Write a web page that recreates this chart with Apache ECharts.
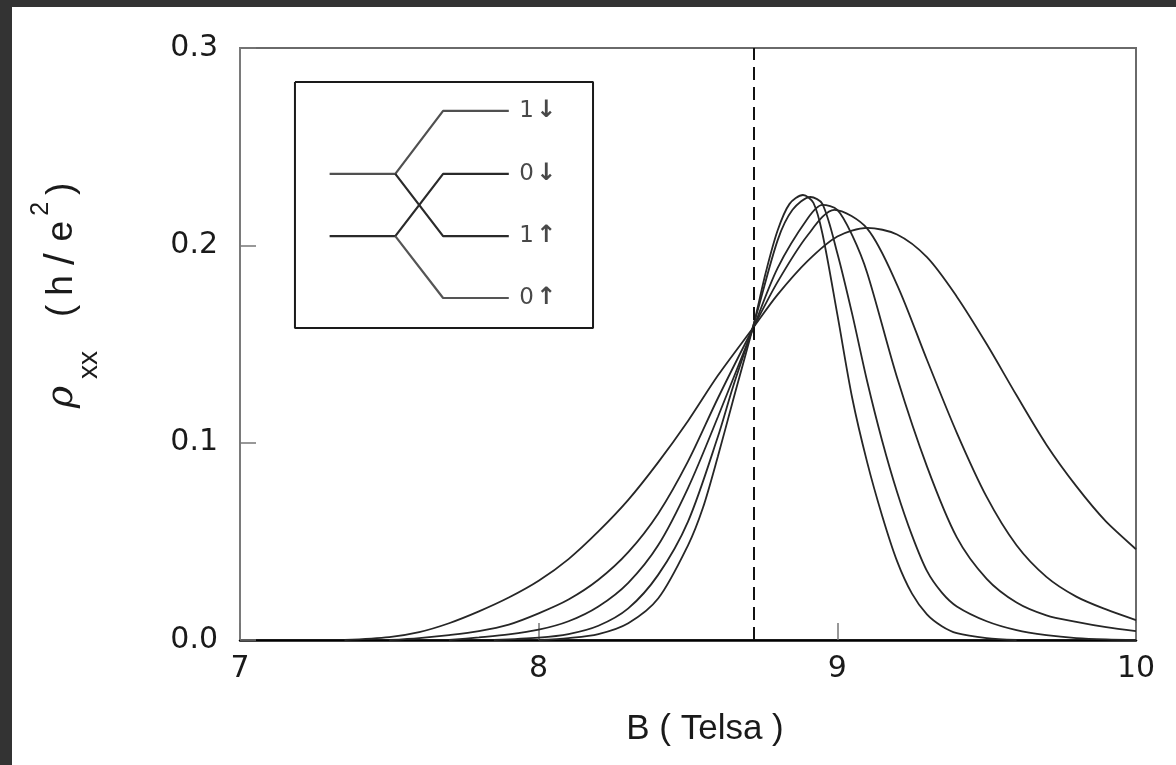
<!DOCTYPE html>
<html><head><meta charset="utf-8">
<script src="https://cdn.jsdelivr.net/npm/echarts@6/dist/echarts.min.js"></script>
<style>
html,body{margin:0;padding:0;background:#333;width:1176px;height:765px;overflow:hidden}
#chart{position:absolute;left:12px;top:7px;width:1164px;height:758px;background:#fff}
</style></head><body><div id="chart"></div>
<script>
// ---- data ----
const xRange = [7, 10];
const yRange = [0, 0.3];
const xTickStep = 1;
const yTickStep = 0.1;
const xAxisTitle = 'B ( Telsa )';
const criticalB = 8.717;

const curve1 = [[8.00,0.0000],[8.10,0.0010],[8.20,0.0030],[8.30,0.0085],[8.40,0.0210],[8.50,0.0480],[8.55,0.0670],[8.60,0.0930],[8.65,0.1210],[8.72,0.1600],[8.76,0.1860],[8.80,0.2075],[8.84,0.2210],[8.885,0.2255],[8.92,0.2215],[8.95,0.2060],[9.00,0.1650],[9.05,0.1225],[9.10,0.0900],[9.15,0.0630],[9.20,0.0400],[9.25,0.0235],[9.30,0.0130],[9.35,0.0070],[9.40,0.0035],[9.50,0.0010],[9.60,0.0000]];
const curve2 = [[7.85,0.0000],[8.00,0.0012],[8.10,0.0030],[8.20,0.0072],[8.30,0.0160],[8.40,0.0330],[8.50,0.0600],[8.60,0.1030],[8.65,0.1280],[8.72,0.1600],[8.80,0.2025],[8.85,0.2180],[8.91,0.2245],[8.95,0.2210],[9.00,0.1960],[9.05,0.1650],[9.10,0.1310],[9.15,0.1010],[9.20,0.0750],[9.25,0.0530],[9.30,0.0350],[9.35,0.0240],[9.40,0.0170],[9.50,0.0095],[9.60,0.0050],[9.70,0.0025],[9.80,0.0010],[9.90,0.0003],[10.0,0.0000]];
const curve3 = [[7.70,0.0000],[7.80,0.0013],[7.90,0.0028],[8.00,0.0052],[8.10,0.0095],[8.20,0.0170],[8.30,0.0290],[8.40,0.0480],[8.50,0.0770],[8.60,0.1130],[8.72,0.1586],[8.80,0.1885],[8.90,0.2135],[8.95,0.2205],[9.00,0.2180],[9.05,0.2050],[9.10,0.1860],[9.20,0.1330],[9.30,0.0880],[9.40,0.0520],[9.50,0.0310],[9.60,0.0190],[9.70,0.0125],[9.80,0.0092],[9.90,0.0065],[10.0,0.0045]];
const curve4 = [[7.50,0.0000],[7.60,0.0010],[7.70,0.0025],[7.80,0.0045],[7.90,0.0078],[8.00,0.0135],[8.10,0.0205],[8.20,0.0305],[8.30,0.0445],[8.40,0.0640],[8.50,0.0905],[8.60,0.1225],[8.72,0.1586],[8.80,0.1815],[8.90,0.2050],[8.99,0.2180],[9.10,0.2085],[9.20,0.1800],[9.30,0.1420],[9.40,0.1050],[9.50,0.0725],[9.60,0.0480],[9.70,0.0320],[9.80,0.0220],[9.90,0.0155],[10.0,0.0101]];
const curve5 = [[7.35,0.0000],[7.50,0.0015],[7.60,0.0040],[7.70,0.0085],[7.80,0.0145],[7.90,0.0215],[8.00,0.0300],[8.10,0.0410],[8.20,0.0550],[8.30,0.0710],[8.40,0.0900],[8.50,0.1110],[8.60,0.1340],[8.72,0.1586],[8.80,0.1750],[8.90,0.1920],[9.00,0.2045],[9.10,0.2088],[9.20,0.2055],[9.30,0.1940],[9.40,0.1740],[9.50,0.1500],[9.60,0.1240],[9.70,0.0990],[9.80,0.0780],[9.90,0.0600],[10.0,0.0460]];
const curves = [curve1, curve2, curve3, curve4, curve5];

// inset: Landau-level splitting schematic, in (B, rho) coordinates
const insetBox = [[7.184,0.2828],[8.182,0.2828],[8.182,0.1581],[7.184,0.1581],[7.184,0.2828]];
const insetBranches = [
  [[7.30,0.2362],[7.52,0.2362],[7.68,0.2681],[7.90,0.2681]],
  [[7.52,0.2362],[7.68,0.2047],[7.90,0.2047]],
  [[7.30,0.2047],[7.52,0.2047],[7.68,0.2362],[7.90,0.2362]],
  [[7.52,0.2047],[7.68,0.1733],[7.90,0.1733]]
];
const insetDigits = ['1','0','1','0'];
const insetSpins = ['↓','↓','↑','↑'];
const insetLevels = [0.2681,0.2362,0.2047,0.1733];
const insetLabelB = 7.935;

// ---- chart ----
const chart = echarts.init(document.getElementById('chart'), null, {renderer:'canvas'});
const TXT = '#1a1a1a';
const FONT = 'Liberation Sans';
const series = [];
curves.forEach((c, i) => {
  const s = {
    type:'line', data:c, smooth:0.3, symbol:'none', silent:true, z:3,
    lineStyle:{color:'#262626', width:1.8}
  };
  if (i === curves.length - 1) {
    s.markLine = {
      silent:true, symbol:['none','none'], label:{show:false},
      lineStyle:{type:[13,7], color:'#111', width:2},
      data:[{xAxis: criticalB}]
    };
  }
  series.push(s);
});
series.push({type:'line', data:insetBox, symbol:'none', silent:true, z:4,
  lineStyle:{color:'#1a1a1a', width:2}});
const branchColors = ['#505050','#2a2a2a','#2a2a2a','#555'];
insetBranches.forEach((b, i) => series.push({type:'line', data:b, symbol:'none', silent:true, z:4,
  lineStyle:{color:branchColors[i], width:2.2}}));
series.push({type:'scatter', symbolSize:0, silent:true, z:5,
  data: insetLevels.map((y,i) => [insetLabelB, y, insetDigits[i], insetSpins[i]]),
  label:{show:true, position:'right', distance:0,
    formatter:p => '{d|' + p.data[2] + '}{a|' + p.data[3] + '}',
    rich:{
      d:{fontSize:23, fontFamily:'DejaVu Sans', color:TXT},
      a:{fontSize:24, fontFamily:'DejaVu Sans', fontWeight:'bold', color:TXT, padding:[0,0,0,2]}
    }}});

chart.setOption({
  animation:false,
  backgroundColor:'#fff',
  grid:{left:228, top:41, right:40, bottom:125, containLabel:false, outerBoundsMode:'none',
    show:true, borderColor:'#6a6a6a', borderWidth:2},
  xAxis:{type:'value', min:xRange[0], max:xRange[1], interval:xTickStep,
    name:xAxisTitle, nameLocation:'middle', nameGap:72,
    nameTextStyle:{fontSize:35, fontFamily:FONT, color:TXT, padding:[0,0,0,34]},
    axisLine:{show:true, onZero:false, lineStyle:{color:'#000', width:2.5}},
    axisTick:{show:true, inside:true, length:17, lineStyle:{color:'#777', width:1.5}},
    axisLabel:{fontSize:30, fontFamily:'DejaVu Sans', color:TXT, margin:14},
    splitLine:{show:false}},
  yAxis:{type:'value', min:yRange[0], max:yRange[1], interval:yTickStep,
    name:'{r|ρ}{s|xx}{o|(}{h|h}{sl|/}{e|e}{p|2}{c|)}',
    nameLocation:'middle', nameGap:137, nameRotate:90,
    nameTextStyle:{padding:[0,0,0,97], lineHeight:82,
      rich:{
        r:{fontSize:38, fontFamily:'DejaVu Serif', fontStyle:'italic', color:TXT, lineHeight:82},
        s:{fontSize:28, fontFamily:FONT, color:TXT, verticalAlign:'bottom', lineHeight:30, padding:[0,0,0,7]},
        o:{fontSize:37, fontFamily:FONT, color:TXT, lineHeight:82, padding:[0,0,0,34]},
        h:{fontSize:37, fontFamily:FONT, color:TXT, lineHeight:82, padding:[0,0,0,9]},
        sl:{fontSize:42, fontFamily:FONT, color:TXT, lineHeight:82, padding:[0,10,0,10]},
        e:{fontSize:37, fontFamily:FONT, color:TXT, lineHeight:82, padding:[0,0,0,2]},
        p:{fontSize:25, fontFamily:FONT, color:TXT, verticalAlign:'top', lineHeight:26, padding:[8,0,0,5]},
        c:{fontSize:37, fontFamily:FONT, color:TXT, lineHeight:82, padding:[0,0,0,7]}
      }},
    axisLine:{show:true, onZero:false, lineStyle:{color:'#7a7a7a', width:2}},
    axisTick:{show:true, inside:true, length:16, lineStyle:{color:'#777', width:1.5}},
    axisLabel:{fontSize:30, fontFamily:'DejaVu Sans', color:TXT, margin:22,
      formatter:v => v.toFixed(1)},
    splitLine:{show:false}},
  series:series
});
</script></body></html>
